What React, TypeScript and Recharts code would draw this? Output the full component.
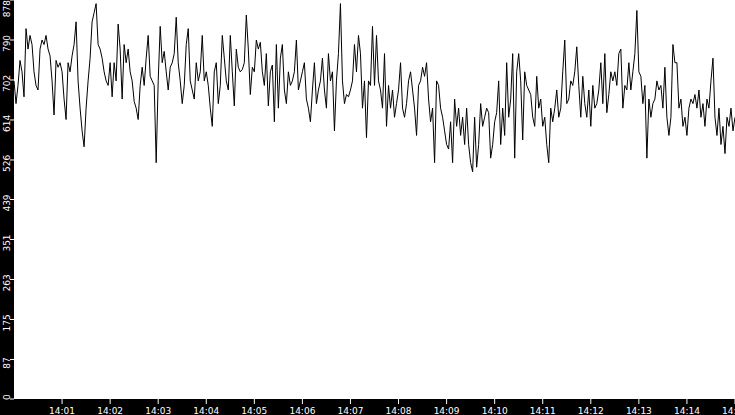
import React from "react";
import { LineChart, Line, XAxis, YAxis, CartesianGrid } from "recharts";

// sampled every 2.5 s from 14:00:00 to 14:15:00
const values: number[] = [
  // 14:00:00 - 14:02:30
  700, 650, 690, 745, 720, 665, 815, 770, 800, 780, 720, 690, 680, 770, 790, 780, 800, 770, 755, 700,
  625, 745, 730, 740, 720, 660, 615, 740, 720, 755, 780, 830, 700, 640, 590, 555, 640, 700, 750, 830,
  850, 870, 780, 770, 750, 720, 700, 690, 740, 665, 740, 700, 825, 770, 660, 780, 740, 770, 720, 700,
  655,
  // 14:02:30 - 14:05:00
  640, 615, 690, 730, 690, 750, 800, 710, 700, 690, 520, 700, 820, 740, 765, 720, 680, 730, 740, 760,
  840, 740, 700, 650, 690, 780, 815, 700, 680, 660, 740, 700, 720, 800, 700, 720, 690, 640, 600, 720,
  740, 650, 690, 800, 750, 700, 680, 800, 720, 645, 770, 730, 720, 725, 740, 845, 770, 670, 730, 720,
  // 14:05:00 - 14:07:30
  790, 770, 785, 720, 690, 760, 645, 720, 735, 610, 780, 640, 750, 780, 680, 650, 720, 690, 700, 720,
  790, 680, 700, 720, 740, 660, 640, 610, 680, 740, 650, 680, 700, 750, 680, 640, 760, 700, 720, 590,
  700, 760, 870, 700, 650, 670, 665, 680, 700, 780, 720, 800, 760, 640, 700, 575, 700, 690, 820, 690,
  // 14:07:30 - 14:10:00
  800, 700, 680, 640, 760, 600, 690, 640, 680, 620, 650, 680, 740, 640, 620, 650, 700, 720, 680, 640,
  580, 690, 700, 730, 710, 740, 660, 610, 640, 520, 700, 690, 640, 620, 590, 560, 550, 610, 520, 660,
  600, 640, 580, 620, 560, 640, 560, 520, 500, 620, 510, 560, 650, 600, 620, 640, 630, 530, 560, 610,
  // 14:10:00 - 14:12:30
  630, 700, 560, 640, 580, 740, 620, 660, 760, 530, 720, 760, 700, 570, 720, 690, 680, 670, 620, 600,
  710, 640, 660, 600, 620, 560, 520, 640, 610, 640, 680, 620, 640, 720, 790, 650, 660, 700, 690, 720,
  775, 690, 620, 710, 650, 620, 680, 600, 690, 640, 650, 680, 740, 650, 760, 630, 670, 720, 700, 720,
  // 14:12:30 - 14:15:00
  690, 760, 770, 640, 690, 680, 740, 680, 720, 760, 855, 720, 710, 650, 690, 530, 660, 620, 650, 660,
  700, 680, 690, 640, 730, 620, 580, 620, 780, 740, 740, 640, 660, 600, 620, 580, 640, 660, 650, 670,
  640, 680, 620, 650, 600, 660, 640, 700, 750, 620, 580, 640, 560, 600, 540, 620, 600, 640, 590, 620,
];

const stepSeconds = 2.5;
const data = values.map((v, i) => ({ t: i * stepSeconds, v }));

const xTicks = [60, 120, 180, 240, 300, 360, 420, 480, 540, 600, 660, 720, 780, 840, 900];
const xTickLabels = [
  "14:01", "14:02", "14:03", "14:04", "14:05", "14:06", "14:07", "14:08",
  "14:09", "14:10", "14:11", "14:12", "14:13", "14:14", "14:15",
];
const yTicks = [0, 87, 175, 263, 351, 439, 526, 614, 702, 790, 878];

const FONT = "'DejaVu Sans', sans-serif";
const W = 735;
const H = 415;
const PLOT_BOTTOM = 399;

const YTick = (props: any) => {
  const { y, payload } = props;
  const label = String(payload.value);
  const half = (label.length * 0.636 * 9) / 2;
  let cy = y + 3.5;
  cy = Math.max(half, Math.min(PLOT_BOTTOM + 1 - half, cy));
  return (
    <text
      x={10}
      y={cy}
      transform={`rotate(-90, 10, ${cy})`}
      textAnchor="middle"
      fill="#fff"
      fontSize={9}
      fontFamily={FONT}
    >
      {label}
    </text>
  );
};

const XTick = (props: any) => {
  const { x, payload } = props;
  const idx = xTicks.indexOf(payload.value);
  const label = idx >= 0 ? xTickLabels[idx] : "";
  return (
    <text x={x} y={414} textAnchor="middle" fill="#fff" fontSize={9} fontFamily={FONT}>
      {label}
    </text>
  );
};

export default function App() {
  return (
    <div style={{ position: "absolute", left: 0, top: 0, width: W, height: H, background: "#000" }}>
      <LineChart width={W} height={H} data={data} margin={{ top: 0, right: 0, bottom: 0, left: 0 }}>
        <CartesianGrid horizontal={false} vertical={false} fill="#fff" stroke="none" />
        <XAxis
          dataKey="t"
          type="number"
          domain={[0, 900]}
          ticks={xTicks}
          interval={0}
          height={16}
          axisLine={false}
          tickLine={{ stroke: "#fff" }}
          tickSize={5}
          tick={<XTick />}
          allowDataOverflow
        />
        <YAxis
          type="number"
          domain={[0, 878]}
          ticks={yTicks}
          interval={0}
          width={14}
          axisLine={false}
          tickLine={{ stroke: "#fff" }}
          tickSize={4}
          tick={<YTick />}
          allowDataOverflow
        />
        <Line
          type="linear"
          dataKey="v"
          stroke="#000"
          strokeWidth={1}
          dot={false}
          isAnimationActive={false}
        />
      </LineChart>
    </div>
  );
}
